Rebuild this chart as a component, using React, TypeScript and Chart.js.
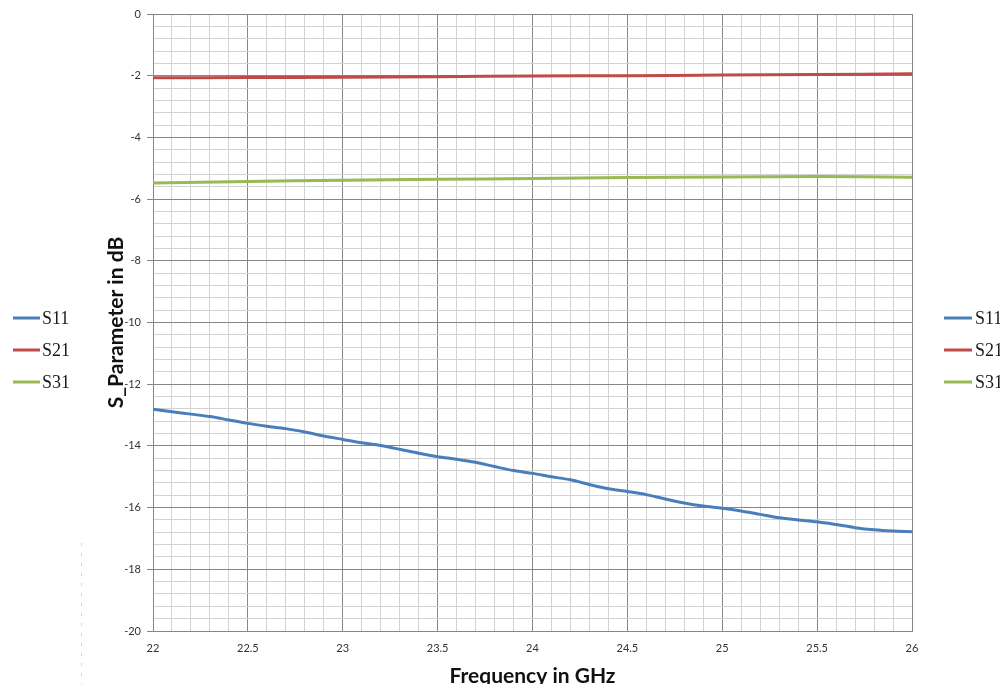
import { useEffect, useRef } from "react";
import { Chart, registerables } from "chart.js";

Chart.register(...registerables);

// ---- data ----
const frequencies = [
  22.0, 22.1, 22.2, 22.3, 22.4, 22.5, 22.6, 22.7, 22.8, 22.9,
  23.0, 23.1, 23.2, 23.3, 23.4, 23.5, 23.6, 23.7, 23.8, 23.9,
  24.0, 24.1, 24.2, 24.3, 24.4, 24.5, 24.6, 24.7, 24.8, 24.9,
  25.0, 25.1, 25.2, 25.3, 25.4, 25.5, 25.6, 25.7, 25.8, 25.9,
  26.0,
];
const s11 = [
  -12.81, -12.89, -12.97, -13.05, -13.16, -13.27, -13.36, -13.44, -13.55, -13.68,
  -13.79, -13.9, -13.99, -14.11, -14.24, -14.35, -14.43, -14.53, -14.67, -14.8,
  -14.89, -15.0, -15.1, -15.25, -15.39, -15.48, -15.58, -15.72, -15.85, -15.95,
  -16.02, -16.11, -16.22, -16.33, -16.4, -16.46, -16.55, -16.65, -16.72, -16.76,
  -16.78,
];
const coarseFrequencies = [22.0, 22.5, 23.0, 23.5, 24.0, 24.5, 25.0, 25.5, 26.0];
const s21 = [-2.07, -2.06, -2.05, -2.03, -2.01, -2.0, -1.98, -1.96, -1.94];
const s31 = [-5.48, -5.43, -5.39, -5.36, -5.33, -5.3, -5.28, -5.27, -5.29];

const seriesNames = ["S11", "S21", "S31"];
const seriesColors = ["#4a7ebb", "#be4b48", "#98b954"];

const xTitle = "Frequency in GHz";
const yTitle = "S_Parameter in dB";

const MAJOR = "#878787";
const MINOR = "#d2d2d2";
const FONT = "Lato, 'Open Sans', sans-serif";

const toPoints = (xs: number[], ys: number[]) => xs.map((x, i) => ({ x, y: ys[i] }));

const isYMajor = (v: number) => Math.abs(v / 2 - Math.round(v / 2)) < 1e-6;
const isXMajor = (v: number) => Math.abs(v * 2 - Math.round(v * 2)) < 1e-6;

const legendPlugin = {
  id: "twinLegends",
  afterDraw(chart: any) {
    const ctx = chart.ctx as CanvasRenderingContext2D;
    ctx.save();
    const blocks = [
      { x0: 13, x1: 40, tx: 42 },
      { x0: 944, x1: 972, tx: 975 },
    ];
    ctx.font = "18px 'Liberation Serif', serif";
    ctx.textBaseline = "middle";
    ctx.textAlign = "left";
    blocks.forEach((b) => {
      seriesNames.forEach((name, i) => {
        const y = 318 + i * 32;
        ctx.strokeStyle = seriesColors[i];
        ctx.lineWidth = 3;
        ctx.beginPath();
        ctx.moveTo(b.x0, y);
        ctx.lineTo(b.x1, y);
        ctx.stroke();
        ctx.fillStyle = "#1a1a1a";
        ctx.fillText(name, b.tx, y + 1);
      });
    });
    // faint dotted guide line at left
    ctx.strokeStyle = "#d6d6d6";
    ctx.lineWidth = 1;
    ctx.setLineDash([3, 7]);
    ctx.beginPath();
    ctx.moveTo(81.5, 543);
    ctx.lineTo(81.5, 684);
    ctx.stroke();
    ctx.restore();
  },
};

export default function App() {
  const canvasRef = useRef<HTMLCanvasElement | null>(null);

  useEffect(() => {
    document.body.style.margin = "0";
    const canvas = canvasRef.current;
    if (!canvas) return;
    const chart = new Chart(canvas, {
      type: "line",
      data: {
        datasets: [
          { label: seriesNames[0], data: toPoints(frequencies, s11), borderColor: seriesColors[0] },
          { label: seriesNames[1], data: toPoints(coarseFrequencies, s21), borderColor: seriesColors[1] },
          { label: seriesNames[2], data: toPoints(coarseFrequencies, s31), borderColor: seriesColors[2] },
        ].map((d) => ({
          ...d,
          borderWidth: 3,
          pointRadius: 0,
          pointHoverRadius: 0,
          tension: 0.3,
          fill: false,
        })),
      },
      options: {
        animation: false,
        responsive: false,
        devicePixelRatio: 1,
        layout: { padding: { left: 100, top: 14, right: 88, bottom: 0 } },
        plugins: { legend: { display: false }, tooltip: { enabled: false } },
        scales: {
          x: {
            type: "linear",
            min: 22,
            max: 26,
            afterFit: (s: any) => {
              s.height = 53;
            },
            border: { display: true, color: MAJOR, width: 1 },
            grid: {
              drawTicks: false,
              color: (c: any) => (isXMajor(c.tick.value) ? MAJOR : MINOR),
            },
            ticks: {
              stepSize: 0.1,
              autoSkip: false,
              maxRotation: 0,
              padding: 11,
              color: "#333333",
              font: { family: FONT, size: 11 },
              callback: (v: any) => (isXMajor(Number(v)) ? String(Math.round(Number(v) * 2) / 2) : ""),
            },
            title: {
              display: true,
              text: xTitle,
              color: "#111111",
              font: { family: FONT, size: 21, weight: "bold", lineHeight: 1 },
              padding: { top: 0, bottom: -3 },
            },
          },
          y: {
            type: "linear",
            min: -20,
            max: 0,
            afterFit: (s: any) => {
              s.width = 53;
            },
            border: { display: true, color: MAJOR, width: 1 },
            grid: {
              drawTicks: true,
              tickLength: 6,
              color: (c: any) => (isYMajor(c.tick.value) ? MAJOR : MINOR),
              tickColor: (c: any) => (isYMajor(c.tick.value) ? MAJOR : "rgba(0,0,0,0)"),
            },
            ticks: {
              stepSize: 0.4,
              autoSkip: false,
              padding: 6,
              color: "#333333",
              font: { family: FONT, size: 11 },
              callback: (v: any) => (isYMajor(Number(v)) ? String(Math.round(Number(v))) : ""),
            },
            title: {
              display: true,
              text: yTitle,
              color: "#111111",
              font: { family: FONT, size: 21, weight: "bold", lineHeight: 1 },
              padding: { top: 6, bottom: 0 },
            },
          },
        },
      },
      plugins: [legendPlugin],
    });
    return () => chart.destroy();
  }, []);

  return (
    <div style={{ width: 1000, height: 684, position: "relative", background: "#ffffff" }}>
      <canvas ref={canvasRef} width={1000} height={684} style={{ width: 1000, height: 684, display: "block" }} />
    </div>
  );
}
